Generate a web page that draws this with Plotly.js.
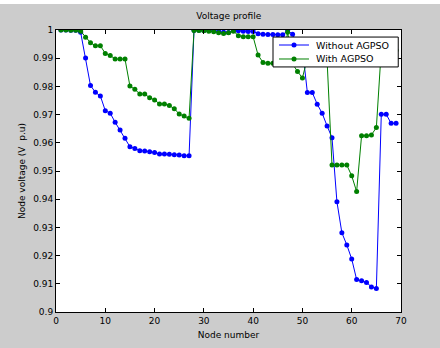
<!DOCTYPE html>
<html>
<head>
<meta charset="utf-8">
<script src="https://cdn.plot.ly/plotly-3.0.1.min.js"></script>
<style>
  html, body { margin: 0; padding: 0; background: #ffffff; }
  #chart { position: absolute; left: 0; top: 4px; width: 440px; height: 344px; }
</style>
</head>
<body>
<div id="chart"></div>
<script>
// Node numbers of the 69-node feeder
const nodes = Array.from({length: 69}, (_, i) => i + 1);

// Node voltages (p.u.) without DG placement
const withoutAgpso = [
  1.0000, 0.99998, 0.99995, 0.9999, 0.9992, 0.9901, 0.9803, 0.9779, 0.9766, 0.9714,
  0.9705, 0.9673, 0.9645, 0.9616, 0.9586, 0.9580, 0.9572, 0.9571, 0.9568, 0.9566,
  0.9560, 0.9560, 0.9559, 0.9558, 0.9557, 0.9554, 0.9554, 0.99995, 0.9999, 0.9998,
  0.9998, 0.9997, 0.9995, 0.9992, 0.9991, 0.9998, 0.9997, 0.9996, 0.9995, 0.9995,
  0.9987, 0.9985, 0.9984, 0.9984, 0.9983, 0.9983, 0.9998, 0.9985, 0.9950, 0.9935,
  0.9778, 0.9778, 0.9737, 0.9705, 0.9660, 0.9618, 0.9391, 0.9281, 0.9238, 0.9188,
  0.9115, 0.9111, 0.9105, 0.9089, 0.9083, 0.9701, 0.9701, 0.9669, 0.9669
];

// Node voltages (p.u.) with AGPSO-based DG placement
const withAgpso = [
  1.0000, 0.99998, 0.99995, 0.9999, 0.9996, 0.9974, 0.9955, 0.9944, 0.9944, 0.9917,
  0.9910, 0.9897, 0.9897, 0.9897, 0.9801, 0.9790, 0.9773, 0.9773, 0.9760, 0.9752,
  0.9738, 0.9738, 0.9732, 0.9721, 0.9702, 0.9695, 0.9687, 0.9998, 0.9998, 0.9997,
  0.9996, 0.9994, 0.9990, 0.9988, 0.9990, 0.9996, 0.9980, 0.9976, 0.9976, 0.9976,
  0.9911, 0.9885, 0.9882, 0.9882, 0.9880, 0.9880, 0.9992, 0.9880, 0.9853, 0.9830,
  0.9900, 0.9900, 0.9898, 0.9896, 0.9894, 0.9521, 0.9521, 0.9521, 0.9521, 0.9483,
  0.9427, 0.9625, 0.9625, 0.9628, 0.9654, 0.9930, 0.9930, 0.9928, 0.9928
];

const seriesNames = ['Without AGPSO', 'With AGPSO'];
const seriesColors = ['#0000ff', '#008000'];

const xTicks = [0, 10, 20, 30, 40, 50, 60, 70];
const yTicks = [0.9, 0.91, 0.92, 0.93, 0.94, 0.95, 0.96, 0.97, 0.98, 0.99, 1];
const yTickText = ['0.9', '0.91', '0.92', '0.93', '0.94', '0.95', '0.96', '0.97', '0.98', '0.99', '1'];

const fontFamily = '"DejaVu Sans", Verdana, sans-serif';

const traces = [withoutAgpso, withAgpso].map((vals, i) => ({
  x: nodes, y: vals, name: seriesNames[i],
  type: 'scatter', mode: 'lines+markers',
  line: {color: seriesColors[i], width: 1},
  marker: {color: seriesColors[i], size: 5},
  showlegend: false
}));

// Compact boxed legend in the upper right, drawn over the traces
const box = {x0: 0.629, x1: 0.992, y0: 0.869, y1: 0.975};
const rowY = [0.9468, 0.8972];
const sample = {x0: 0.6464, x1: 0.7333, xm: 0.6899, xt: 0.7478};

const legendShapes = [{
  type: 'rect', xref: 'paper', yref: 'paper', layer: 'above',
  x0: box.x0, x1: box.x1, y0: box.y0, y1: box.y1,
  fillcolor: '#ffffff', line: {color: '#000000', width: 1}
}];
const legendText = [];
seriesNames.forEach((name, i) => {
  legendShapes.push({
    type: 'line', xref: 'paper', yref: 'paper', layer: 'above',
    x0: sample.x0, x1: sample.x1, y0: rowY[i], y1: rowY[i],
    line: {color: seriesColors[i], width: 1}
  });
  legendShapes.push({
    type: 'circle', xref: 'paper', yref: 'paper', layer: 'above',
    xsizemode: 'pixel', ysizemode: 'pixel',
    xanchor: sample.xm, yanchor: rowY[i],
    x0: -2.5, x1: 2.5, y0: -2.5, y1: 2.5,
    fillcolor: seriesColors[i], line: {color: seriesColors[i], width: 0}
  });
  legendText.push({
    text: name, xref: 'paper', yref: 'paper',
    x: sample.xt, y: rowY[i], xanchor: 'left', yanchor: 'middle',
    showarrow: false, font: {family: fontFamily, size: 9.5, color: '#000000'}
  });
});

const axisCommon = {
  showgrid: false, zeroline: false,
  showline: true, linecolor: '#000000', linewidth: 1, mirror: 'ticks',
  ticks: 'inside', ticklen: 4, tickcolor: '#000000', tickwidth: 1,
  tickfont: {family: fontFamily, size: 9, color: '#000000'}
};

const layout = {
  width: 440, height: 344,
  paper_bgcolor: '#cccccc', plot_bgcolor: '#ffffff',
  margin: {l: 56, r: 39, t: 26, b: 36},
  font: {family: fontFamily, size: 9, color: '#000000'},
  title: {
    text: 'Voltage profile',
    font: {family: fontFamily, size: 9, color: '#000000'},
    x: 0.52, xanchor: 'center', y: 0.965, yanchor: 'middle'
  },
  xaxis: Object.assign({}, axisCommon, {
    range: [0, 70], tickvals: xTicks, ticktext: xTicks.map(String),
    title: {text: 'Node number', font: {family: fontFamily, size: 9, color: '#000000'}, standoff: 6}
  }),
  yaxis: Object.assign({}, axisCommon, {
    range: [0.9, 1], tickvals: yTicks, ticktext: yTickText,
    title: {text: 'Node voltage (V  p.u)', font: {family: fontFamily, size: 9, color: '#000000'}, standoff: 6}
  }),
  showlegend: false,
  shapes: legendShapes,
  annotations: legendText
};

Plotly.newPlot('chart', traces, layout, {displayModeBar: false, staticPlot: true});
</script>
</body>
</html>
